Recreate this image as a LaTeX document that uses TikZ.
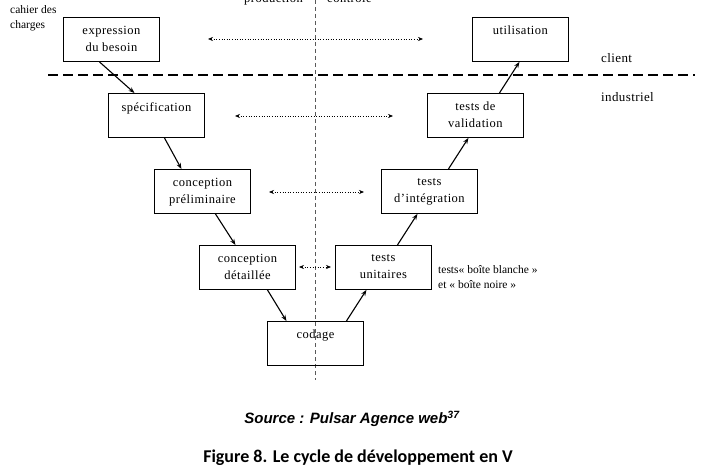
\documentclass[tikz,border=0pt]{standalone}
\usepackage{fontspec}
\setmainfont{Liberation Serif}
\newfontfamily\boxfont[LetterSpace=4]{Liberation Serif}
\newfontfamily\lblfont[LetterSpace=3]{Liberation Serif}
\newfontfamily\srcfont{Liberation Sans}
\newfontfamily\capfont{Carlito}
\usetikzlibrary{arrows.meta}
\begin{document}
\begin{tikzpicture}[x=1pt,y=-1pt,
  stepbox/.style={draw,line width=0.9pt,minimum width=96pt,minimum height=44pt,anchor=north west,inner sep=0pt,align=center,font=\boxfont\fontsize{12.5}{17}\selectfont},
  flow/.style={line width=1.1pt,-{Stealth[length=6pt,width=4.5pt]}},
  link/.style={dotted,line width=0.6pt,{Stealth[length=5pt,width=4pt]}-{Stealth[length=5pt,width=4pt]}},
  lbl/.style={anchor=west,font=\fontsize{11.5}{15}\selectfont,inner sep=0pt},
  biglbl/.style={anchor=west,font=\lblfont\fontsize{13}{15}\selectfont,inner sep=0pt}]
\useasboundingbox (0,0) rectangle (702,468);
\clip (0,0) rectangle (702,468);
% vertical and horizontal separators
\draw[gray!70!black,line width=0.6pt,dash pattern=on 4pt off 3pt] (315,0) -- (315,380);
\draw[line width=1.8pt,dash pattern=on 10pt off 5pt] (48,75) -- (695,75);
% boxes
\node[stepbox] (exp) at (63,17) {};
\node[stepbox] (spec) at (108,93) {};
\node[stepbox] (cprel) at (154,169) {};
\node[stepbox] (cdet) at (199,245) {};
\node[stepbox] (cod) at (267,321) {};
\node[stepbox] (tu) at (335,245) {};
\node[stepbox] (ti) at (381,169) {};
\node[stepbox] (tv) at (427,93) {};
\node[stepbox] (util) at (472,17) {};
% box texts
\begin{scope}[every node/.style={font=\boxfont\fontsize{12.5}{17}\selectfont,align=center,anchor=north,inner sep=0pt}]
\node (texp) at ([yshift=-9pt]exp.north) {expression\\du besoin};
\node (tspec) at ([yshift=-9pt]spec.north) {spécification};
\node (tcprel) at ([yshift=-9pt]cprel.north) {conception\\préliminaire};
\node (tcdet) at ([yshift=-9pt]cdet.north) {conception\\détaillée};
\node (tcod) at ([yshift=-9pt]cod.north) {codage};
\node (ttu) at ([yshift=-9pt]tu.north) {tests\\unitaires};
\node (tti) at ([yshift=-9pt]ti.north) {tests\\d’intégration};
\node (ttv) at ([yshift=-9pt]tv.north) {tests de\\validation};
\node (tutil) at ([yshift=-9pt]util.north) {utilisation};
\end{scope}
% flow arrows
\draw[flow] ([xshift=-12pt]exp.south) -- ([xshift=-22pt]spec.north);
\draw[flow] ([xshift=8pt]spec.south) -- ([xshift=-21pt]cprel.north);
\draw[flow] ([xshift=13pt]cprel.south) -- ([xshift=-12pt]cdet.north);
\draw[flow] ([xshift=20pt]cdet.south) -- ([xshift=-29pt]cod.north);
\draw[flow] ([xshift=31pt]cod.north) -- ([xshift=-17pt]tu.south);
\draw[flow] ([xshift=14pt]tu.north) -- ([xshift=-12pt]ti.south);
\draw[flow] ([xshift=19pt]ti.north) -- ([xshift=-7pt]tv.south);
\draw[flow] ([xshift=24pt]tv.north) -- ([xshift=-1pt]util.south);
% dotted correspondence links
\coordinate (l1a) at (208,39); \coordinate (l1b) at (423,39);
\coordinate (l2a) at (235,116); \coordinate (l2b) at (393,116);
\coordinate (l3a) at (269,192); \coordinate (l3b) at (364,192);
\coordinate (l4a) at (299,267); \coordinate (l4b) at (331,267);
\draw[link] (l1a) -- (l1b);
\draw[link] (l2a) -- (l2b);
\draw[link] (l3a) -- (l3b);
\draw[link] (l4a) -- (l4b);
% labels
\node[lbl,align=left,anchor=north west] (cdc) at (10,5) {cahier des\\charges};
\node[biglbl] (cli) at (601,58) {client};
\node[biglbl] (ind) at (601,97) {industriel};
\node[lbl,align=left,anchor=north west] (boite) at (438,265) {tests« boîte blanche »\\et « boîte noire »};
\node[font=\boxfont\fontsize{12.5}{15}\selectfont,anchor=base east,inner sep=0pt] (prod) at (303,3) {production};
\node[font=\boxfont\fontsize{12.5}{15}\selectfont,anchor=base west,inner sep=0pt] (ctrl) at (327,3) {contrôle};
% captions
\node[font=\srcfont\bfseries\itshape\fontsize{15}{18}\selectfont,inner sep=0pt] (src) at (352,419) {Source : Pulsar Agence web\textsuperscript{37}};
\node[font=\capfont\bfseries\fontsize{18}{20}\selectfont,inner sep=0pt] (cap) at (358,458) {Figure 8. Le cycle de développement en V};
\end{tikzpicture}
\end{document}
